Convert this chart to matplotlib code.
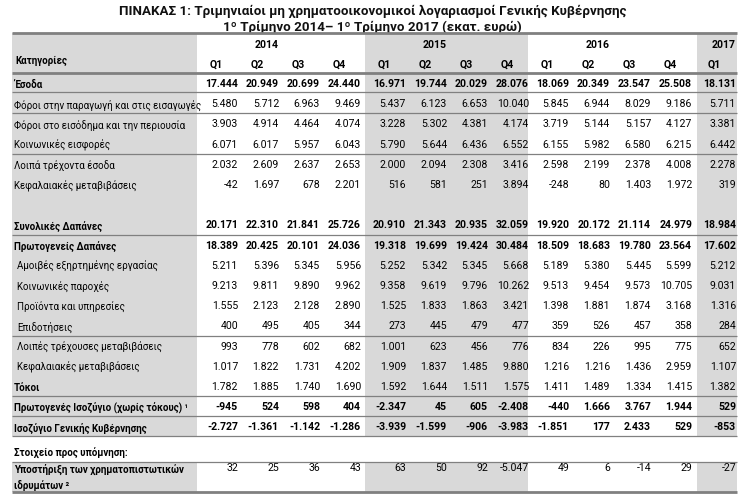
import matplotlib
matplotlib.use("Agg")
import matplotlib.pyplot as plt
from matplotlib.patches import Rectangle

plt.rcParams['font.family'] = ['Roboto', 'DejaVu Sans']

# ---------------- data ----------------
title_line1 = "ΠΙΝΑΚΑΣ 1: Τριμηνιαίοι μη χρηματοοικονομικοί λογαριασμοί Γενικής Κυβέρνησης"
title_line2 = "1º Τρίμηνο 2014– 1º Τρίμηνο 2017 (εκατ. ευρώ)"
header_label = "Κατηγορίες"
years = ["2014", "2015", "2016", "2017"]
quarters = [["Q1", "Q2", "Q3", "Q4"], ["Q1", "Q2", "Q3", "Q4"],
            ["Q1", "Q2", "Q3", "Q4"], ["Q1"]]

categories = [
    "Έσοδα",
    "Φόροι στην παραγωγή και στις εισαγωγές",
    "Φόροι στο εισόδημα και την περιουσία",
    "Κοινωνικές εισφορές",
    "Λοιπά τρέχοντα έσοδα",
    "Κεφαλαιακές μεταβιβάσεις",
    "Συνολικές Δαπάνες",
    "Πρωτογενείς Δαπάνες",
    "Αμοιβές εξηρτημένης εργασίας",
    "Κοινωνικές παροχές",
    "Προϊόντα και υπηρεσίες",
    "Επιδοτήσεις",
    "Λοιπές τρέχουσες μεταβιβάσεις",
    "Κεφαλαιακές μεταβιβάσεις",
    "Τόκοι",
    "Πρωτογενές Ισοζύγιο (χωρίς τόκους) ¹",
    "Ισοζύγιο Γενικής Κυβέρνησης",
]

esoda = [17444, 20949, 20699, 24440, 16971, 19744, 20029, 28076, 18069, 20349, 23547, 25508, 18131]
foroi_paragogi = [5480, 5712, 6963, 9469, 5437, 6123, 6653, 10040, 5845, 6944, 8029, 9186, 5711]
foroi_eisodima = [3903, 4914, 4464, 4074, 3228, 5302, 4381, 4174, 3719, 5144, 5157, 4127, 3381]
koin_eisfores = [6071, 6017, 5957, 6043, 5790, 5644, 6436, 6552, 6155, 5982, 6580, 6215, 6442]
loipa_esoda = [2032, 2609, 2637, 2653, 2000, 2094, 2308, 3416, 2598, 2199, 2378, 4008, 2278]
kef_metav_esoda = [-42, 1697, 678, 2201, 516, 581, 251, 3894, -248, 80, 1403, 1972, 319]
synolikes_dapanes = [20171, 22310, 21841, 25726, 20910, 21343, 20935, 32059, 19920, 20172, 21114, 24979, 18984]
protog_dapanes = [18389, 20425, 20101, 24036, 19318, 19699, 19424, 30484, 18509, 18683, 19780, 23564, 17602]
amoives = [5211, 5396, 5345, 5956, 5252, 5342, 5345, 5668, 5189, 5380, 5445, 5599, 5212]
koin_paroxes = [9213, 9811, 9890, 9962, 9358, 9619, 9796, 10262, 9513, 9454, 9573, 10705, 9031]
proionta = [1555, 2123, 2128, 2890, 1525, 1833, 1863, 3421, 1398, 1881, 1874, 3168, 1316]
epidotiseis = [400, 495, 405, 344, 273, 445, 479, 477, 359, 526, 457, 358, 284]
loipes_metav = [993, 778, 602, 682, 1001, 623, 456, 776, 834, 226, 995, 775, 652]
kef_metav_dap = [1017, 1822, 1731, 4202, 1909, 1837, 1485, 9880, 1216, 1216, 1436, 2959, 1107]
tokoi = [1782, 1885, 1740, 1690, 1592, 1644, 1511, 1575, 1411, 1489, 1334, 1415, 1382]
protog_isozygio = [-945, 524, 598, 404, -2347, 45, 605, -2408, -440, 1666, 3767, 1944, 529]
isozygio = [-2727, -1361, -1142, -1286, -3939, -1599, -906, -3983, -1851, 177, 2433, 529, -853]

memo_title = "Στοιχείο προς υπόμνηση:"
memo_label = ["Υποστήριξη των χρηματοπιστωτικών", "ιδρυμάτων ²"]
memo_values = [32, 25, 36, 43, 63, 50, 92, -5047, 49, 6, -14, 29, -27]

series = [esoda, foroi_paragogi, foroi_eisodima, koin_eisfores, loipa_esoda,
          kef_metav_esoda, synolikes_dapanes, protog_dapanes, amoives, koin_paroxes,
          proionta, epidotiseis, loipes_metav, kef_metav_dap, tokoi,
          protog_isozygio, isozygio]

# ---------------- layout / style ----------------
bold_label = {0, 6, 7, 14, 15, 16}
bold_values = {0, 6, 7, 15, 16}
indented = {8, 9, 10, 11, 12, 13}
row_slot = [0, 1, 2, 3, 4, 5, 7, 8, 9, 10, 11, 12, 13, 14, 15, 16, 17]

W, H = 745, 502
GRAY = "#d9d9d9"
LINE = "#808080"
FS = 7.6     # numbers / header
FL = 7.0     # row labels

x_left, x_label_end, x_right = 12, 197, 737
group_left = [197, 365, 528, 697]
group_right = [365, 528, 697, 737]
group_fill = [None, GRAY, None, GRAY]
col_step = 41

y_top, y_header_bot = 34, 74
row0_y, row_pitch = 84, 20.2


def fmt(v):
    return f"{v:,}".replace(",", ".")


fig = plt.figure(figsize=(W / 100, H / 100), dpi=100)
ax = fig.add_axes([0, 0, 1, 1])
ax.set_xlim(0, W)
ax.set_ylim(H, 0)
ax.axis("off")

y_tab_end = row0_y + row_pitch * 17 + 10   # bottom of main body
y_memo_line = 463
y_bottom = 493

# background stripes
for (y0, y1) in [(y_top, y_tab_end), (y_memo_line, y_bottom)]:
    ax.add_patch(Rectangle((x_left, y0), x_label_end - x_left, y1 - y0,
                           facecolor=GRAY, edgecolor="none", zorder=0))
    for gl, gr, gf in zip(group_left, group_right, group_fill):
        if gf:
            ax.add_patch(Rectangle((gl, y0), gr - gl, y1 - y0,
                                   facecolor=gf, edgecolor="none", zorder=0))

# column positions
col_right = []
for gl, qs in zip(group_left, quarters):
    for j in range(len(qs)):
        col_right.append(gl + col_step * (j + 1) - (2 if len(qs) == 1 else 0))

# title
ax.text(W / 2, 11, title_line1, ha="center", va="center", fontsize=9.6, fontweight="bold", color="#111111")
ax.text(W / 2, 27, title_line2, ha="center", va="center", fontsize=9.6, fontweight="bold", color="#111111")

# header
ax.text(15, 61, header_label, ha="left", va="center", fontsize=FL, fontweight="bold")
k = 0
for yr, qs in zip(years, quarters):
    idx = min(1, len(qs) - 1)
    ax.text(col_right[k + idx], 45, yr, ha="right", va="center", fontsize=FS, fontweight="bold")
    for q in qs:
        ax.text(col_right[k] - 22, 65, q, ha="center", va="center", fontsize=FS, fontweight="bold")
        k += 1

# body rows
for i, (cat, vals) in enumerate(zip(categories, series)):
    y = row0_y + row_pitch * row_slot[i]
    xl = 17 if i in indented else 14
    ax.text(xl, y + 1, cat, ha="left", va="center", fontsize=FL,
            fontweight="bold" if i in bold_label else "normal")
    for xr, v in zip(col_right, vals):
        ax.text(xr, y, fmt(v), ha="right", va="center", fontsize=FS,
                fontweight="bold" if i in bold_values else "normal")

# memo
ax.text(14, 453, memo_title, ha="left", va="center", fontsize=FL, fontweight="bold")
ax.text(14, 469, memo_label[0], ha="left", va="center", fontsize=FL, fontweight="bold")
ax.text(14, 485, memo_label[1], ha="left", va="center", fontsize=FL, fontweight="bold")
for xr, v in zip(col_right, memo_values):
    ax.text(xr, 468, fmt(v), ha="right", va="center", fontsize=FS)

# horizontal rules
thick = [y_top, y_header_bot, y_bottom]
thin = [93, 114, 155, 236, 337, 397, 417, 437, y_memo_line]
for y in thick:
    ax.plot([x_left, x_right], [y, y], color=LINE, lw=2.0, solid_capstyle="butt", zorder=3)
for y in thin:
    ax.plot([x_left, x_right], [y, y], color=LINE, lw=0.9, solid_capstyle="butt", zorder=3)

fig.savefig("out.png", dpi=100)
